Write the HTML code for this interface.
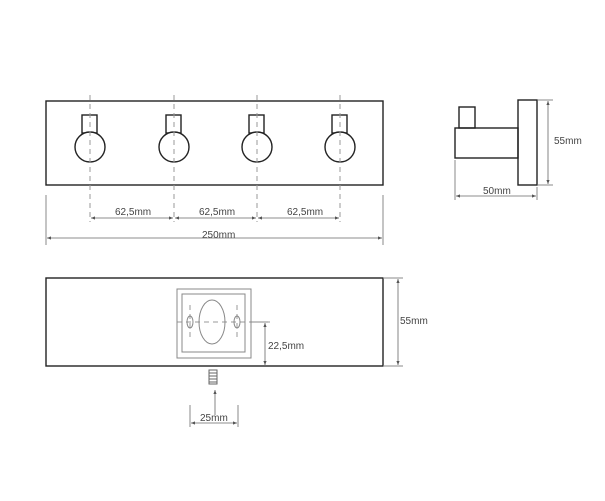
<!DOCTYPE html>
<html><head><style>body{margin:0;background:#fff}svg{display:block}text{font-family:"Liberation Sans",sans-serif;font-size:10px;fill:#444}</style></head><body>
<svg width="605" height="501" viewBox="0 0 605 501" xmlns="http://www.w3.org/2000/svg">
<defs><marker id="a" markerWidth="6" markerHeight="6" refX="5" refY="3" orient="auto-start-reverse"><path d="M0,1 L5,3 L0,5z" fill="#555"/></marker></defs>
<g fill="none" stroke="#222" stroke-width="1.4">
<rect x="46" y="101" width="337" height="84"/>
<g id="h"><rect x="82" y="115" width="15" height="18"/><circle cx="90" cy="147" r="15" fill="#fff"/></g>
<use href="#h" x="84"/><use href="#h" x="167"/><use href="#h" x="250"/>
<rect x="455" y="128" width="63" height="30"/><rect x="459" y="107" width="16" height="21"/><rect x="518" y="100" width="19" height="85"/>
<rect x="46" y="278" width="337" height="88"/>
</g>
<g stroke="#999" stroke-width="1" stroke-dasharray="5,4" fill="none">
<line x1="90" y1="95" x2="90" y2="222"/><line x1="174" y1="95" x2="174" y2="222"/><line x1="257" y1="95" x2="257" y2="222"/><line x1="340" y1="95" x2="340" y2="222"/>
<line x1="177" y1="322" x2="270" y2="322"/><line x1="190" y1="305" x2="190" y2="340"/><line x1="237" y1="305" x2="237" y2="340"/>
</g>
<g stroke="#888" stroke-width="1" fill="none">
<line x1="46" y1="195" x2="46" y2="245"/><line x1="383" y1="195" x2="383" y2="245"/>
<line x1="538" y1="100" x2="553" y2="100"/><line x1="538" y1="185" x2="553" y2="185"/>
<line x1="455" y1="160" x2="455" y2="200"/><line x1="537" y1="187" x2="537" y2="200"/>
<line x1="383" y1="278" x2="403" y2="278"/><line x1="383" y1="366" x2="403" y2="366"/>
<line x1="250" y1="322" x2="268" y2="322"/>
<line x1="190" y1="405" x2="190" y2="427"/><line x1="238" y1="405" x2="238" y2="427"/>
<rect x="177" y="289" width="74" height="69"/><rect x="182" y="294" width="63" height="58"/>
<ellipse cx="212" cy="322" rx="13" ry="22"/><ellipse cx="190" cy="322" rx="3" ry="6"/><ellipse cx="237" cy="322" rx="3" ry="6"/>
<rect x="209" y="370" width="8" height="14" stroke="#666"/><path d="M209,373h8M209,376h8M209,379h8M209,382h8" stroke="#666"/>
</g>
<g stroke="#666" stroke-width="0.8" marker-start="url(#a)" marker-end="url(#a)">
<line x1="91" y1="218" x2="173" y2="218"/><line x1="175" y1="218" x2="256" y2="218"/><line x1="258" y1="218" x2="339" y2="218"/>
<line x1="47" y1="238" x2="382" y2="238"/>
<line x1="548" y1="101" x2="548" y2="184"/><line x1="456" y1="196" x2="536" y2="196"/>
<line x1="398" y1="279" x2="398" y2="365"/><line x1="265" y1="323" x2="265" y2="365"/>
<line x1="191" y1="423" x2="237" y2="423"/>
</g>
<line x1="215" y1="415" x2="215" y2="390" stroke="#666" stroke-width="0.8" marker-end="url(#a)"/>
<text x="115" y="215">62,5mm</text><text x="199" y="215">62,5mm</text><text x="287" y="215">62,5mm</text>
<text x="202" y="238">250mm</text>
<text x="554" y="144">55mm</text><text x="483" y="194">50mm</text>
<text x="400" y="324">55mm</text><text x="268" y="349">22,5mm</text><text x="200" y="421">25mm</text>
</svg>
</body></html>
